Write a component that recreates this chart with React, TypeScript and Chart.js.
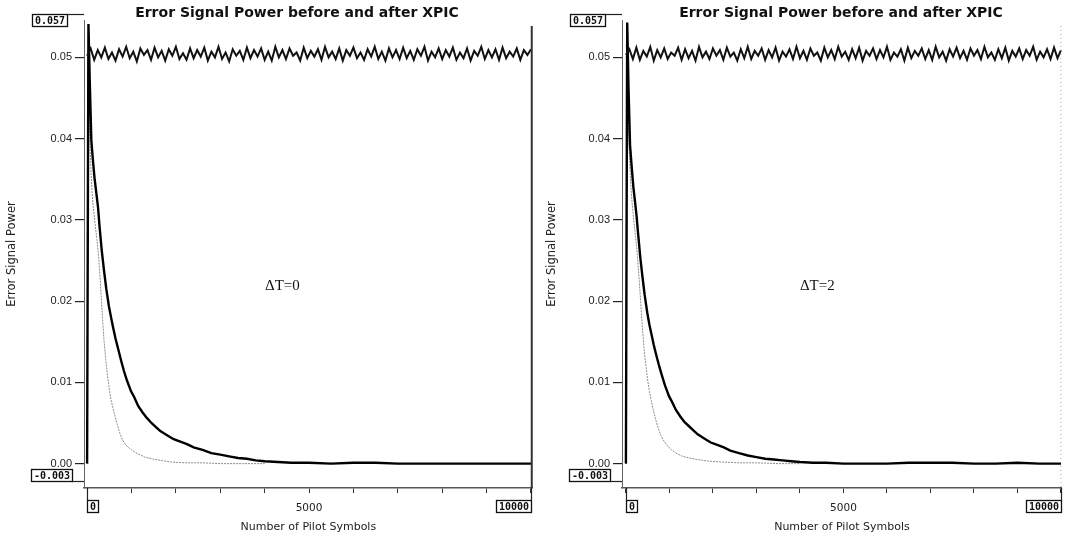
import { useEffect, useRef } from "react";
import { Chart, registerables } from "chart.js";

Chart.register(...registerables);

// ---- data -------------------------------------------------------------

// Uncompensated error power, sampled every BEFORE_STEP pilot symbols (0 … 10000)
const BEFORE_STEP = 80;

const beforeDT0 = [
  0.0502, 0.0511, 0.0497, 0.0509, 0.05, 0.0512, 0.0498, 0.0506, 0.0496, 0.051,
  0.0501, 0.0513, 0.0499, 0.0507, 0.0495, 0.0511, 0.0503, 0.0509, 0.0497, 0.0512,
  0.05, 0.0508, 0.0496, 0.051, 0.0502, 0.0513, 0.0498, 0.0505, 0.0497, 0.0511,
  0.0499, 0.0509, 0.0501, 0.0512, 0.0496, 0.0507, 0.05, 0.0513, 0.0498, 0.0506,
  0.0495, 0.051, 0.0502, 0.0508, 0.0497, 0.0512, 0.0499, 0.0509, 0.0501, 0.0511,
  0.0497, 0.0507, 0.0496, 0.0513, 0.05, 0.0509, 0.0498, 0.0511, 0.0502, 0.0506,
  0.0496, 0.0512, 0.0499, 0.0508, 0.0501, 0.051, 0.0497, 0.0513, 0.05, 0.0507,
  0.0498, 0.0511, 0.0496, 0.0509, 0.0502, 0.0512, 0.0499, 0.0506, 0.0497, 0.051,
  0.0501, 0.0513, 0.0498, 0.0507, 0.0496, 0.0511, 0.05, 0.0509, 0.0498, 0.0512,
  0.0499, 0.0508, 0.0497, 0.051, 0.0502, 0.0513, 0.0496, 0.0507, 0.05, 0.0511,
  0.0498, 0.0509, 0.0501, 0.0512, 0.0497, 0.0506, 0.0499, 0.0511, 0.0496, 0.0508,
  0.0502, 0.0513, 0.0498, 0.0509, 0.05, 0.051, 0.0497, 0.0512, 0.0499, 0.0507,
  0.0501, 0.0511, 0.0497, 0.0509, 0.0503, 0.051,
];

const beforeDT2 = [
  0.0503, 0.051, 0.0498, 0.0512, 0.0497, 0.0508, 0.0501, 0.0513, 0.0496, 0.0509,
  0.05, 0.0511, 0.0498, 0.0506, 0.0502, 0.0512, 0.0497, 0.051, 0.0499, 0.0508,
  0.0496, 0.0513, 0.05, 0.0507, 0.0498, 0.0511, 0.0502, 0.0509, 0.0497, 0.0512,
  0.0501, 0.0506, 0.0496, 0.051, 0.0499, 0.0513, 0.0498, 0.0508, 0.0502, 0.0511,
  0.0497, 0.0509, 0.05, 0.0512, 0.0496, 0.0507, 0.0501, 0.051, 0.0498, 0.0513,
  0.0499, 0.0508, 0.0497, 0.0511, 0.0502, 0.0506, 0.0496, 0.0512, 0.05, 0.0509,
  0.0498, 0.0513, 0.0501, 0.0507, 0.0497, 0.051, 0.0499, 0.0512, 0.0496, 0.0508,
  0.0502, 0.0511, 0.0498, 0.0509, 0.05, 0.0513, 0.0497, 0.0506, 0.0501, 0.051,
  0.0496, 0.0512, 0.0499, 0.0508, 0.0502, 0.0511, 0.0498, 0.0509, 0.0497, 0.0513,
  0.05, 0.0507, 0.0496, 0.051, 0.0501, 0.0512, 0.0499, 0.0508, 0.0497, 0.0511,
  0.0502, 0.0509, 0.0498, 0.0513, 0.05, 0.0506, 0.0497, 0.051, 0.0499, 0.0512,
  0.0496, 0.0508, 0.0501, 0.0511, 0.0498, 0.0509, 0.0502, 0.0513, 0.0497, 0.0507,
  0.05, 0.051, 0.0498, 0.0512, 0.0499, 0.0509,
];

// Error power after XPIC (heavy trace)
const afterX = [
  0, 30, 60, 95, 130, 170, 210, 245, 280, 330,
  380, 430, 490, 540, 580, 640, 700, 770, 830, 900,
  990, 1060, 1150, 1250, 1350, 1450, 1550, 1650, 1800, 1950,
  2100, 2250, 2400, 2600, 2800, 3000, 3200, 3400, 3600, 3800,
  4000, 4300, 4600, 5000, 5500, 6000, 6500, 7000, 7500, 8000,
  8500, 9000, 9500, 10000,
];

const afterDT0 = [
  0, 0.0541, 0.047, 0.0398, 0.0374, 0.035, 0.0332, 0.0316, 0.0292, 0.0262,
  0.0238, 0.0216, 0.0194, 0.018, 0.0169, 0.0154, 0.0141, 0.0126, 0.0114, 0.0102,
  0.0089, 0.0082, 0.0071, 0.0063, 0.0056, 0.005, 0.0045, 0.004, 0.0035, 0.003,
  0.0027, 0.0024, 0.002, 0.0017, 0.0013, 0.0011, 0.0009, 0.0007, 0.0006, 0.0004,
  0.0003, 0.0002, 0.0001, 0.0001, 0, 0.0001, 0.0001, 0, 0, 0,
  0, 0, 0, 0,
];

const afterDT2 = [
  0, 0.0543, 0.0462, 0.0392, 0.0367, 0.0341, 0.0322, 0.0305, 0.0283, 0.0254,
  0.023, 0.0208, 0.0186, 0.0171, 0.0161, 0.0146, 0.0133, 0.0119, 0.0108, 0.0096,
  0.0083, 0.0076, 0.0066, 0.0058, 0.0051, 0.0046, 0.0041, 0.0036, 0.0031, 0.0026,
  0.0023, 0.002, 0.0016, 0.0013, 0.001, 0.0008, 0.0006, 0.0005, 0.0004, 0.0003,
  0.0002, 0.0001, 0.0001, 0, 0, 0, 0.0001, 0.0001, 0.0001, 0,
  0, 0.0001, 0, 0,
];

// Reference trace (light dotted)
const refX = [
  0, 10, 25, 50, 80, 110, 140, 180, 220, 260,
  300, 340, 380, 420, 460, 500, 540, 580, 630, 680,
  740, 800, 870, 950, 1050, 1150, 1300, 1450, 1650, 1900,
  2200, 2600, 3000, 3500, 4000,
];

const refDT0 = [
  0, 0.05, 0.0465, 0.042, 0.037, 0.0335, 0.0315, 0.0295, 0.0276, 0.0255,
  0.0222, 0.0185, 0.0152, 0.0128, 0.0108, 0.0092, 0.0078, 0.0069, 0.0058, 0.0048,
  0.0037, 0.0029, 0.0023, 0.0019, 0.0015, 0.0012, 0.0008, 0.0006, 0.0004, 0.0002,
  0.0001, 0.0001, 0, 0, 0,
];

const refDT2 = [
  0, 0.0502, 0.047, 0.0428, 0.038, 0.0345, 0.0322, 0.03, 0.028, 0.0258,
  0.023, 0.0198, 0.0166, 0.014, 0.012, 0.0103, 0.0089, 0.0078, 0.0066, 0.0055,
  0.0044, 0.0035, 0.0028, 0.0022, 0.0017, 0.0013, 0.0009, 0.0007, 0.0005, 0.0003,
  0.0002, 0.0001, 0.0001, 0, 0,
];

// Axis ticks and labels
const yTicks = [0, 0.01, 0.02, 0.03, 0.04, 0.05];
const yTickLabels = ["0.00", "0.01", "0.02", "0.03", "0.04", "0.05"];
const xTicks = [0, 1000, 2000, 3000, 4000, 5000, 6000, 7000, 8000, 9000, 10000];
const xTickLabels = ["", "", "", "", "", "5000", "", "", "", "", ""];
const yLimitLabels = ["0.057", "-0.003"];
const xLimitLabels = ["0", "10000"];

const Y_MIN = -0.003;
const Y_MAX = 0.0546;

const TITLE = "Error Signal Power before and after XPIC";
const Y_TITLE = "Error Signal Power";
const X_TITLE = "Number of Pilot Symbols";

// ---- drawing ----------------------------------------------------------

const SANS = '"Liberation Sans", Arial, Helvetica, sans-serif';
const WIDE = '"DejaVu Sans", Verdana, sans-serif';
const MONO = '"DejaVu Sans Mono", "Liberation Mono", monospace';

function drawBox(ctx: CanvasRenderingContext2D, text: string, x: number, y: number, anchor: "left" | "right") {
  ctx.font = `bold 10px ${MONO}`;
  const w = Math.round(ctx.measureText(text).width + 5);
  const h = 12;
  const bx = Math.round(anchor === "right" ? x - w : x);
  ctx.fillStyle = "#fff";
  ctx.fillRect(bx, y, w, h);
  ctx.strokeStyle = "#111";
  ctx.lineWidth = 1.3;
  ctx.strokeRect(bx + 0.5, y + 0.5, w, h);
  ctx.fillStyle = "#111";
  ctx.textAlign = "center";
  ctx.textBaseline = "middle";
  ctx.fillText(text, bx + w / 2 + 0.5, y + h / 2 + 1);
  return { bx, w, h };
}

const decorations = {
  id: "decorations",
  afterDraw(chart: any, _args: any, opts: any) {
    const { ctx, chartArea, scales } = chart;
    const { left, right, top, bottom } = chartArea;
    const xs = scales.x;
    const ys = scales.y;
    ctx.save();

    // heading
    ctx.fillStyle = "#111";
    ctx.font = `bold 14px ${WIDE}`;
    ctx.textAlign = "center";
    ctx.textBaseline = "middle";
    ctx.fillText(TITLE, opts.titleX, 13);

    // right frame edge
    ctx.beginPath();
    ctx.strokeStyle = opts.solidEdge ? "#333" : "#aaa";
    ctx.lineWidth = opts.solidEdge ? 2 : 1;
    ctx.setLineDash(opts.solidEdge ? [] : [1, 3]);
    ctx.moveTo(right - 1, top + 6);
    ctx.lineTo(right - 1, bottom);
    ctx.stroke();
    ctx.setLineDash([]);

    // axis limit boxes with their brackets
    const topBox = drawBox(ctx, yLimitLabels[0], left - 17, top - 6, "right");
    ctx.beginPath();
    ctx.strokeStyle = "#222";
    ctx.lineWidth = 1.2;
    ctx.moveTo(topBox.bx + topBox.w, top - 5.5);
    ctx.lineTo(left, top - 5.5);
    ctx.stroke();

    const botBox = drawBox(ctx, yLimitLabels[1], left - 12, bottom - 19, "right");
    ctx.beginPath();
    ctx.strokeStyle = "#222";
    ctx.lineWidth = 1.2;
    ctx.moveTo(botBox.bx + botBox.w, bottom - 6.5);
    ctx.lineTo(left, bottom - 6.5);
    ctx.stroke();

    const x0 = xs.getPixelForValue(xTicks[0]);
    const x1 = xs.getPixelForValue(xTicks[xTicks.length - 1]);
    const boxTop = bottom + 12;
    drawBox(ctx, xLimitLabels[0], x0, boxTop, "left");
    drawBox(ctx, xLimitLabels[1], x1, boxTop, "right");
    ctx.beginPath();
    ctx.strokeStyle = "#222";
    ctx.lineWidth = 1.2;
    ctx.moveTo(Math.round(x0) + 0.5, bottom);
    ctx.lineTo(Math.round(x0) + 0.5, boxTop);
    ctx.moveTo(Math.round(x1) + 0.5, bottom);
    ctx.lineTo(Math.round(x1) + 0.5, boxTop);
    ctx.stroke();

    // delay annotation
    ctx.fillStyle = "#111";
    ctx.font = '15px "Liberation Serif", "Times New Roman", serif';
    ctx.textAlign = "center";
    ctx.textBaseline = "middle";
    ctx.fillText(opts.note, xs.getPixelForValue(opts.noteAt[0]), ys.getPixelForValue(opts.noteAt[1]));

    ctx.restore();
  },
};

type Panel = {
  before: number[];
  after: number[];
  ref: number[];
  note: string;
  noteAt: [number, number];
  width: number;
  axisWidth: number;
  xMin: number;
  xMax: number;
  padRight: number;
  titleX: number;
  solidEdge: boolean;
};

const panels: Panel[] = [
  {
    before: beforeDT0, after: afterDT0, ref: refDT0,
    note: "\u0394T=0", noteAt: [4400, 0.0219],
    width: 540, axisWidth: 84, xMin: -70, xMax: 10040, padRight: 5,
    titleX: 297, solidEdge: true,
  },
  {
    before: beforeDT2, after: afterDT2, ref: refDT2,
    note: "\u0394T=2", noteAt: [4400, 0.0219],
    width: 530, axisWidth: 82, xMin: -90, xMax: 10020, padRight: 1,
    titleX: 301, solidEdge: false,
  },
];

function PowerPanel({ p, left }: { p: Panel; left: number }) {
  const ref = useRef<HTMLCanvasElement>(null);

  useEffect(() => {
    if (!ref.current) return;
    const chart = new Chart(ref.current, {
      type: "line",
      data: {
        datasets: [
          {
            label: "before XPIC",
            data: p.before.map((v, i) => ({ x: i * BEFORE_STEP, y: v })),
            borderColor: "#111",
            borderWidth: 2,
            pointRadius: 0,
            tension: 0,
          },
          {
            label: "after XPIC",
            data: afterX.map((x, i) => ({ x, y: p.after[i] })),
            borderColor: "#000",
            borderWidth: 2.4,
            pointRadius: 0,
            tension: 0,
          },
          {
            label: "reference",
            data: refX.map((x, i) => ({ x, y: p.ref[i] })),
            borderColor: "#8c8c8c",
            borderWidth: 1,
            borderDash: [2, 1],
            pointRadius: 0,
            tension: 0,
          },
        ],
      },
      options: {
        animation: false,
        responsive: false,
        devicePixelRatio: 1,
        layout: { padding: { top: 20, right: p.padRight, bottom: 0, left: 0 } },
        plugins: {
          legend: { display: false },
          tooltip: { enabled: false },
          decorations: { note: p.note, noteAt: p.noteAt, titleX: p.titleX, solidEdge: p.solidEdge },
        } as any,
        scales: {
          x: {
            type: "linear",
            min: p.xMin,
            max: p.xMax,
            afterBuildTicks: (s: any) => {
              s.ticks = xTicks.map((value) => ({ value }));
            },
            afterFit: (s: any) => {
              s.height = 50;
            },
            ticks: {
              autoSkip: false,
              maxRotation: 0,
              padding: 9,
              color: "#222",
              font: { family: WIDE, size: 10.5 },
              callback: (_v: any, i: number) => xTickLabels[i],
            },
            grid: { drawOnChartArea: false, drawTicks: true, tickLength: 5, color: "#333", lineWidth: 1 },
            border: { display: true, color: "#555", width: 1.5, dash: [3, 1] },
            title: {
              display: true,
              text: X_TITLE,
              color: "#222",
              font: { family: WIDE, size: 11 },
              padding: { top: 0, bottom: 4 },
            },
          },
          y: {
            type: "linear",
            min: Y_MIN,
            max: Y_MAX,
            afterBuildTicks: (s: any) => {
              s.ticks = yTicks.map((value) => ({ value }));
            },
            afterFit: (s: any) => {
              s.width = p.axisWidth;
            },
            ticks: {
              autoSkip: false,
              padding: 3,
              color: "#222",
              font: { family: SANS, size: 11 },
              callback: (_v: any, i: number) => yTickLabels[i],
            },
            grid: { drawOnChartArea: false, drawTicks: true, tickLength: 9, color: "#222", lineWidth: 1.2 },
            border: { display: true, color: "#666", width: 1, dash: [1, 3] },
            title: {
              display: true,
              text: Y_TITLE,
              color: "#222",
              font: { family: WIDE, size: 11.5 },
              padding: { top: 5, bottom: 0 },
            },
          },
        },
      },
      plugins: [decorations as any],
    });
    return () => chart.destroy();
  }, [p]);

  return (
    <canvas
      ref={ref}
      width={p.width}
      height={538}
      style={{ position: "absolute", left, top: 0, width: p.width, height: 538 }}
    />
  );
}

export default function App() {
  return (
    <div style={{ position: "absolute", left: 0, top: 0, width: 1070, height: 538, background: "#fff" }}>
      <PowerPanel p={panels[0]} left={0} />
      <PowerPanel p={panels[1]} left={540} />
    </div>
  );
}
